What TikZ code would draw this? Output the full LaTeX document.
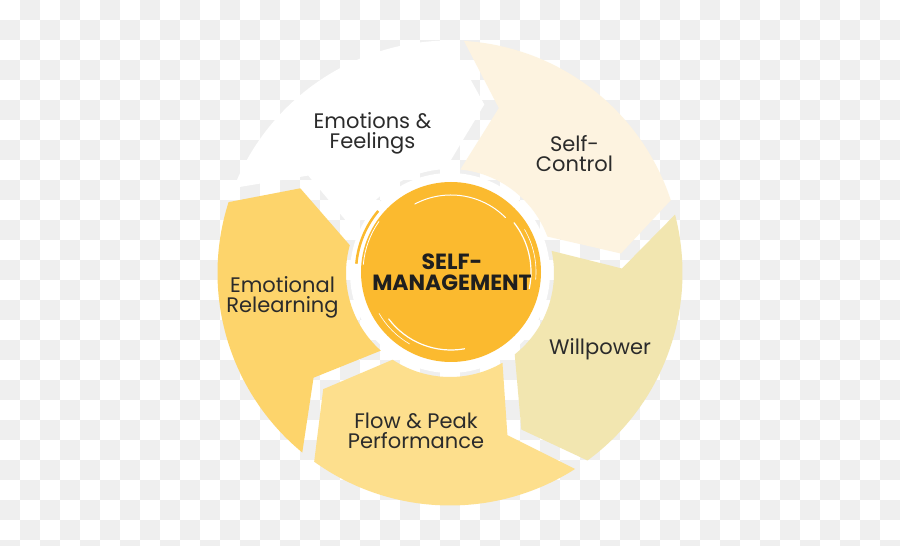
\documentclass[tikz,border=0pt]{standalone}
\usepackage{fontspec}
\setmainfont{Poppins}
\definecolor{checker}{HTML}{EFEFEF}
\definecolor{ctrlfill}{HTML}{FDF3E0}
\definecolor{willfill}{HTML}{F2E6B0}
\definecolor{flowfill}{HTML}{FDDF8D}
\definecolor{relearnfill}{HTML}{FDD46B}
\definecolor{corefill}{HTML}{FBBA2F}
\definecolor{inkgray}{HTML}{2B2B2B}
\tikzset{
  segtext/.style={font=\fontsize{21}{20}\selectfont, text=inkgray, align=center},
  brush/.style={white, line width=#1, line cap=round},
}
\begin{document}
\begin{tikzpicture}[x=1pt,y=1pt]
\useasboundingbox (0,0) rectangle (900,546);
\clip (0,0) rectangle (900,546);
\fill[white] (0,0) rectangle (900,546);
% checkerboard behind the ring
\foreach \i in {0,...,44}
  \foreach \j in {0,...,27}{
    \pgfmathparse{int(mod(\i+\j,2))}
    \ifnum\pgfmathresult=1
      \fill[checker] (20*\i,526-20*\j) rectangle ++(20,20);
    \fi
  }

% five arrow segments, clockwise
\begin{scope}[shift={(450,273)}]
\foreach \s/\col in {160.4/white,88.4/ctrlfill,16.4/willfill,-55.6/flowfill,-127.6/relearnfill}{
  \pgfmathsetmacro\e{\s-72}
  \fill[\col] ({\s-1.85}:232.5) arc[start angle=\s-1.85, end angle=\e+1.85, radius=232.5]
    -- ({\e-12.4+2.5}:172) -- ({\e+4.1}:104)
    arc[start angle=\e+4.1, end angle=\s-4.1, radius=104]
    -- ({\s-12.4-2.5}:172) -- cycle;
}
\end{scope}

% centre disc
\fill[white] (450,273) circle[radius=100];
\fill[corefill] (451,274) circle[radius=90];
\draw[corefill, line width=2.5] (451,274) ++(140:95) arc[start angle=140, end angle=175, radius=95];
\begin{scope}[shift={(451,274)}]
\draw[brush=1] (118:77) arc[start angle=118, end angle=45, radius=77];
\draw[brush=1.2] (38:80) arc[start angle=38, end angle=-12, radius=80];
\draw[brush=0.6] (30:85) arc[start angle=30, end angle=-5, radius=85];
\draw[brush=0.8] (175:88) arc[start angle=175, end angle=145, radius=88];
\draw[brush=1.2] (-143:78) arc[start angle=-143, end angle=-80, radius=78];
\draw[brush=0.6] (-150:83) arc[start angle=-150, end angle=-120, radius=83];
\end{scope}

% labels
\node[segtext] (emot) at (372.5,412.5) {Emotions \&\\Feelings};
\node[segtext] (ctrl) at (574.5,392) {Self-\\Control};
\node[segtext] (will) at (600,196.5) {Willpower};
\node[segtext] (flow) at (416,115) {Flow \& Peak\\Performance};
\node[segtext] (relearn) at (282.5,249) {Emotional\\Relearning};
\node[segtext, font=\bfseries\fontsize{22}{21}\selectfont, text=black!88] (core) at (452,273.4) {SELF-\\MANAGEMENT};
\end{tikzpicture}
\end{document}
